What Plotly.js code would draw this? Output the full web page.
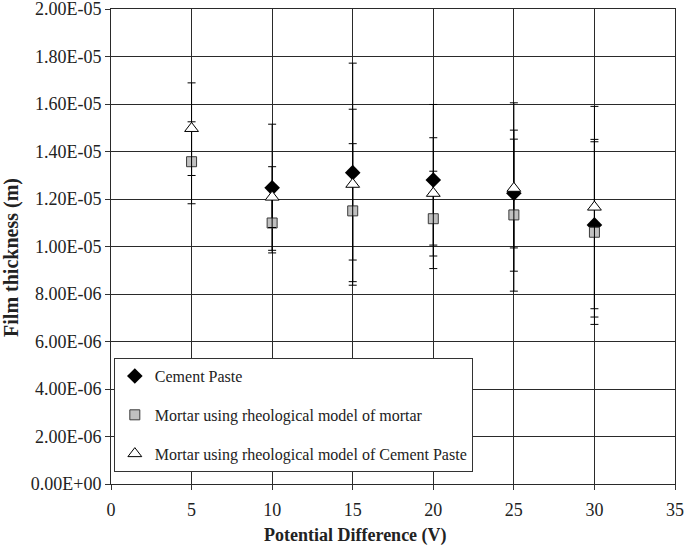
<!DOCTYPE html>
<html>
<head>
<meta charset="utf-8">
<script src="https://cdn.plot.ly/plotly-3.0.1.min.js"></script>
<style>html,body{margin:0;padding:0;background:#fff;}#chart{width:685px;height:550px;}</style>
</head>
<body>
<div id="chart"></div>
<script>
// Data
const cementPasteX = [10, 15, 20, 25, 30];
const cementPasteY = [1.247e-5, 1.311e-5, 1.280e-5, 1.224e-5, 1.091e-5];
const cementPasteErrPlus = [0.268e-5, 0.461e-5, 0.318e-5, 0.381e-5, 0.360e-5];
const cementPasteErrMinus = [0.274e-5, 0.459e-5, 0.320e-5, 0.328e-5, 0.388e-5];

const mortarX = [5, 10, 15, 20, 25, 30];
const mortarMortarY = [1.357e-5, 1.099e-5, 1.150e-5, 1.117e-5, 1.133e-5, 1.060e-5];
const mortarMortarErrPlus = [0.168e-5, 0.110e-5, 0.283e-5, 0.200e-5, 0.319e-5, 0.381e-5];
const mortarMortarErrMinus = [0.177e-5, 0.115e-5, 0.313e-5, 0.210e-5, 0.321e-5, 0.388e-5];

const mortarCementY = [1.497e-5, 1.208e-5, 1.262e-5, 1.224e-5, 1.245e-5, 1.166e-5];
const mortarCementErrPlus = [0.192e-5, 0.128e-5, 0.316e-5, 0.234e-5, 0.245e-5, 0.424e-5];
const mortarCementErrMinus = [0.198e-5, 0.128e-5, 0.319e-5, 0.218e-5, 0.251e-5, 0.428e-5];

const seriesNames = ["Cement Paste", "Mortar using rheological model of mortar", "Mortar using rheological model of Cement Paste"];

const yTickVals = [0, 2e-6, 4e-6, 6e-6, 8e-6, 1e-5, 1.2e-5, 1.4e-5, 1.6e-5, 1.8e-5, 2e-5];
const yTickText = ["0.00E+00", "2.00E-06", "4.00E-06", "6.00E-06", "8.00E-06", "1.00E-05", "1.20E-05", "1.40E-05", "1.60E-05", "1.80E-05", "2.00E-05"];
const xTickVals = [0, 5, 10, 15, 20, 25, 30, 35];
const xTitle = "Potential Difference (V)";
const yTitle = "Film thickness (m)";

const FONT = "'Liberation Serif', 'Times New Roman', serif";

function errBar(plus, minus) {
  return {type: 'data', symmetric: false, array: plus, arrayminus: minus,
          color: '#000', thickness: 1, width: 4, visible: true};
}

const traces = [
  {x: cementPasteX, y: cementPasteY, name: seriesNames[0], type: 'scatter', mode: 'markers',
   legendgroup: 'a',
   marker: {symbol: 'diamond', size: 12, color: '#000', line: {color: '#000', width: 0}},
   error_y: errBar(cementPasteErrPlus, cementPasteErrMinus)},
  {x: mortarX, y: mortarMortarY, name: seriesNames[1], type: 'scatter', mode: 'markers',
   legendgroup: 'b',
   marker: {symbol: 'square', size: 10, color: '#c0c0c0', line: {color: '#3a3a3a', width: 1}},
   error_y: errBar(mortarMortarErrPlus, mortarMortarErrMinus)},
  {x: mortarX, y: mortarCementY, name: seriesNames[2], type: 'scatter', mode: 'markers',
   legendgroup: 'c',
   marker: {symbol: 'triangle-up', size: 12, color: '#fff', line: {color: '#000', width: 1}},
   error_y: errBar(mortarCementErrPlus, mortarCementErrMinus)}
];

const layout = {
  width: 685, height: 550,
  margin: {l: 111, r: 10, t: 9, b: 66},
  paper_bgcolor: '#fff', plot_bgcolor: '#fff',
  font: {family: FONT, size: 18, color: '#222'},
  showlegend: true,
  legend: {
    x: 0.005, y: 0.265, xanchor: 'left', yanchor: 'top',
    bgcolor: '#fff', bordercolor: '#333', borderwidth: 1,
    font: {family: FONT, size: 16, color: '#222'},
    traceorder: 'grouped', tracegroupgap: 15, itemwidth: 30
  },
  xaxis: {
    range: [0, 35], tickvals: xTickVals, ticks: 'outside', ticklen: 5, tickcolor: '#333',
    showgrid: true, gridcolor: '#2a2a2a', gridwidth: 1,
    showline: true, mirror: true, linecolor: '#2a2a2a', linewidth: 1, zeroline: false,
    tickfont: {family: FONT, size: 18, color: '#222'},
    ticklabeloverflow: 'allow', ticklabelstandoff: 4
  },
  yaxis: {
    range: [0, 2e-5], tickvals: yTickVals, ticktext: yTickText, ticks: 'outside', ticklen: 5, tickcolor: '#333',
    showgrid: true, gridcolor: '#2a2a2a', gridwidth: 1,
    showline: true, mirror: true, linecolor: '#2a2a2a', linewidth: 1, zeroline: false,
    tickfont: {family: FONT, size: 18, color: '#222'},
    ticklabeloverflow: 'allow'
  },
  annotations: [
    {text: '<b>' + xTitle + '</b>', xref: 'paper', yref: 'paper', x: 0.433, y: -0.109,
     xanchor: 'center', yanchor: 'middle', showarrow: false,
     font: {family: FONT, size: 18, color: '#222'}},
    {text: '<b>' + yTitle + '</b>', xref: 'paper', yref: 'paper', x: -0.1755, y: 0.476,
     xanchor: 'center', yanchor: 'middle', showarrow: false, textangle: -90,
     font: {family: FONT, size: 20, color: '#222'}}
  ]
};

Plotly.newPlot('chart', traces, layout, {displayModeBar: false, staticPlot: true});
</script>
</body>
</html>
